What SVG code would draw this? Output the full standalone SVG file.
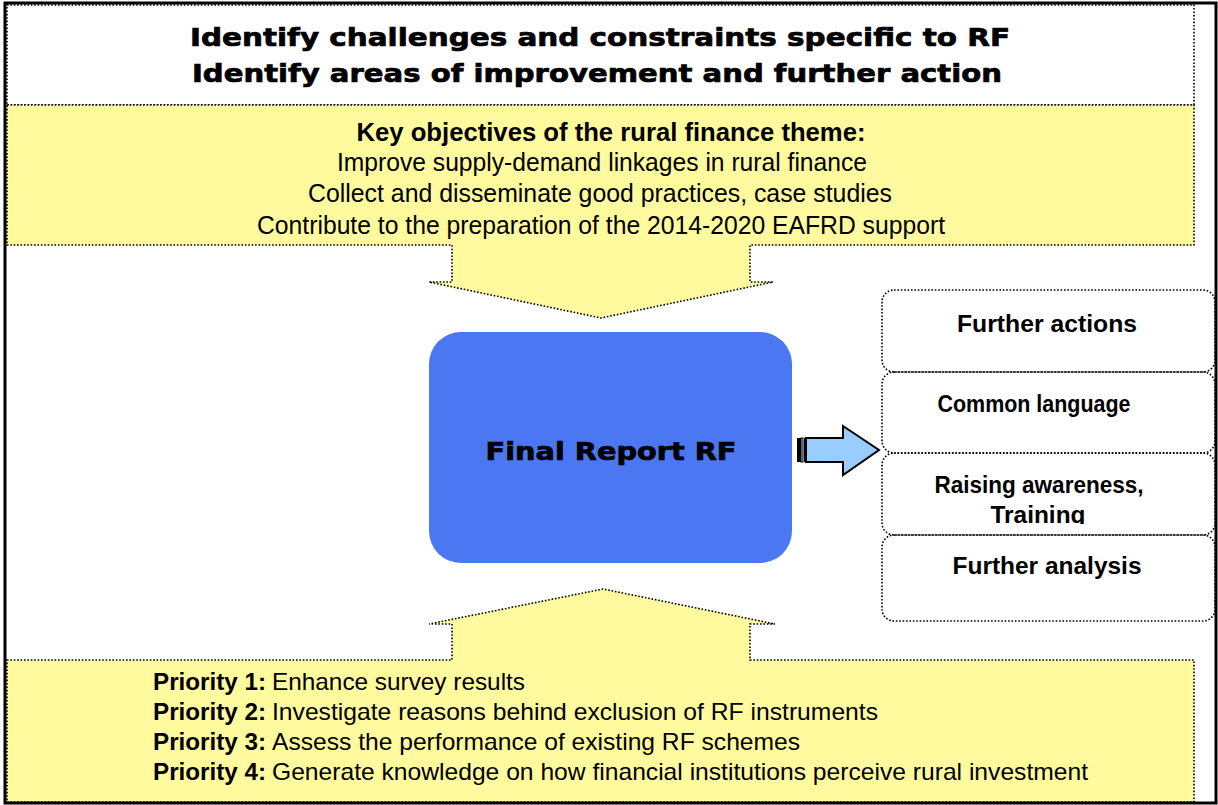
<svg xmlns="http://www.w3.org/2000/svg" width="1218" height="805" viewBox="0 0 1218 805">
<style>
.dot{fill:none;stroke:#000;stroke-width:1.6;stroke-dasharray:1.6 1.8}
.yel{fill:#FFFA9E;stroke:#000;stroke-width:1.6;stroke-dasharray:1.6 1.8}
.title{font-family:"DejaVu Sans",sans-serif;font-weight:bold;font-size:25px;fill:#000;stroke:#000;stroke-width:0.7;text-anchor:middle}
.obj{font-family:"Liberation Sans",Arial,sans-serif;font-size:25px;fill:#000;text-anchor:middle}
.pri{font-family:"Liberation Sans",Arial,sans-serif;font-size:24px;fill:#000}
.box{font-family:"Liberation Sans",Arial,sans-serif;font-weight:bold;font-size:24px;fill:#000;text-anchor:middle}
</style>
<defs>
<clipPath id="clip3"><rect x="882" y="453" width="333" height="71"/></clipPath>
</defs>
<rect x="0" y="0" width="1218" height="805" fill="#fff"/>

<g id="top-box">
<rect x="7" y="5" width="1187" height="100" fill="#fff" class="dot"/>
<text class="title" x="600" y="46" textLength="820" lengthAdjust="spacingAndGlyphs">Identify challenges and constraints specific to RF</text>
<text class="title" x="597" y="82" textLength="810" lengthAdjust="spacingAndGlyphs">Identify areas of improvement and further action</text>
</g>

<g id="objectives">
<path class="yel" d="M7,105 H1194 V245 H750 V282 H773 L601,318 L429,282 H452 V245 H7 Z"/>
<text class="obj" x="611" y="141" font-weight="bold" textLength="509" lengthAdjust="spacingAndGlyphs">Key objectives of the rural finance theme:</text>
<text class="obj" x="602" y="171" textLength="530" lengthAdjust="spacingAndGlyphs">Improve supply-demand linkages in rural finance</text>
<text class="obj" x="600" y="202" textLength="584" lengthAdjust="spacingAndGlyphs">Collect and disseminate good practices, case studies</text>
<text class="obj" x="601" y="234" textLength="688" lengthAdjust="spacingAndGlyphs">Contribute to the preparation of the 2014-2020 EAFRD support</text>
</g>

<g id="priorities">
<path class="yel" d="M7,660 H452 V624 H429 L603,589 L775,624 H750 V660 H1194 V802 H7 Z"/>
<text class="pri" y="690"><tspan x="153" font-weight="bold" textLength="113" lengthAdjust="spacingAndGlyphs">Priority 1:</tspan><tspan x="272" textLength="253" lengthAdjust="spacingAndGlyphs">Enhance survey results</tspan></text>
<text class="pri" y="720"><tspan x="153" font-weight="bold" textLength="113" lengthAdjust="spacingAndGlyphs">Priority 2:</tspan><tspan x="272" textLength="606" lengthAdjust="spacingAndGlyphs">Investigate reasons behind exclusion of RF instruments</tspan></text>
<text class="pri" y="750"><tspan x="153" font-weight="bold" textLength="113" lengthAdjust="spacingAndGlyphs">Priority 3:</tspan><tspan x="272" textLength="528" lengthAdjust="spacingAndGlyphs">Assess the performance of existing RF schemes</tspan></text>
<text class="pri" y="780"><tspan x="153" font-weight="bold" textLength="113" lengthAdjust="spacingAndGlyphs">Priority 4:</tspan><tspan x="272" textLength="816" lengthAdjust="spacingAndGlyphs">Generate knowledge on how financial institutions perceive rural investment</tspan></text>
</g>

<g id="final-report">
<rect x="429" y="332" width="363" height="231" rx="32" ry="32" fill="#4B78F2"/>
<text class="title" x="611" y="460" font-size="26" textLength="251" lengthAdjust="spacingAndGlyphs">Final Report RF</text>
</g>

<g id="further-actions">
<rect x="882" y="290" width="333" height="82" rx="12" class="dot" fill="#fff"/>
<text class="box" x="1047" y="332" textLength="180" lengthAdjust="spacingAndGlyphs">Further actions</text>
</g>
<g id="common-language">
<rect x="882" y="372" width="333" height="81" rx="12" class="dot" fill="#fff"/>
<text class="box" x="1034" y="412" textLength="193" lengthAdjust="spacingAndGlyphs">Common language</text>
</g>
<g id="raising-awareness">
<rect x="882" y="453" width="333" height="82" rx="12" class="dot" fill="#fff"/>
<g clip-path="url(#clip3)">
<text class="box" x="1039" y="493" textLength="209" lengthAdjust="spacingAndGlyphs">Raising awareness,</text>
<text class="box" x="1038" y="523" textLength="95" lengthAdjust="spacingAndGlyphs">Training</text>
</g>
</g>
<g id="further-analysis">
<rect x="882" y="535" width="333" height="86" rx="12" class="dot" fill="#fff"/>
<text class="box" x="1047" y="574" textLength="189" lengthAdjust="spacingAndGlyphs">Further analysis</text>
</g>

<g id="connectors">
<path d="M806,438 H843 V426 L879,450 L843,475 V462 H806 Z" fill="#99CCFF" stroke="#000" stroke-width="2" stroke-linejoin="miter"/>
<rect x="797" y="438" width="4" height="24" fill="#000"/>
<rect x="801" y="438" width="2" height="24" fill="#99CCFF" stroke="#000" stroke-width="1"/>
<line x1="805" y1="438" x2="805" y2="462" stroke="#000" stroke-width="2"/>
</g>

<rect x="5" y="3" width="1211" height="800" fill="none" stroke="#000" stroke-width="3"/>
</svg>
